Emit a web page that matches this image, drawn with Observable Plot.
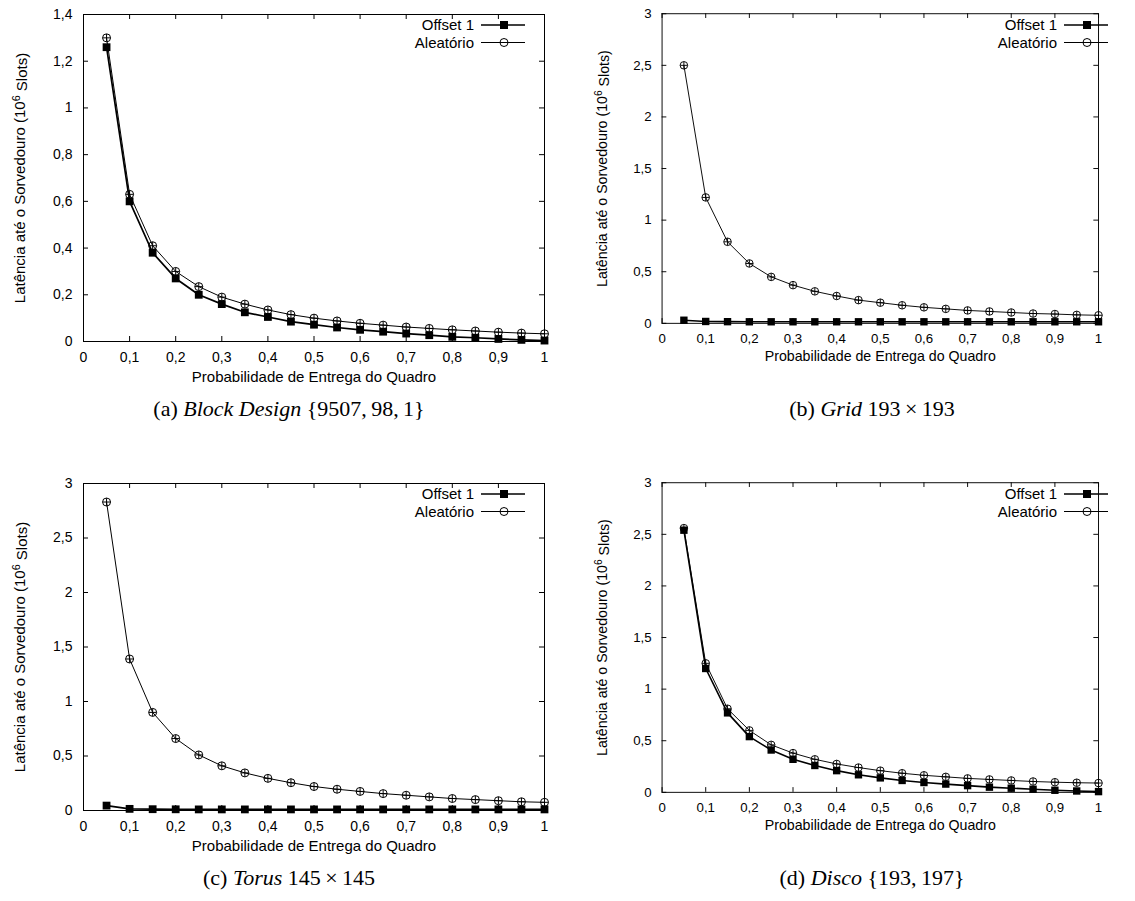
<!DOCTYPE html>
<html>
<head>
<meta charset="utf-8">
<script src="https://cdn.jsdelivr.net/npm/d3@7"></script>
<script src="https://cdn.jsdelivr.net/npm/@observablehq/plot@0.6"></script>
<style>
  html, body { margin: 0; padding: 0; background: #fff; }
  #root { position: relative; width: 1135px; height: 901px; overflow: hidden; background: #fff; }
  .panel { position: absolute; }
  .cap { position: absolute; width: 400px; text-align: center; font-family: "Liberation Serif", "DejaVu Serif", serif; font-size: 22px; line-height: 26px; color: #000; white-space: nowrap; }
  .legend { position: absolute; }
</style>
</head>
<body>
<div id="root"></div>
<script>
// ---- data ----
const prob = [0.05, 0.1, 0.15, 0.2, 0.25, 0.3, 0.35, 0.4, 0.45, 0.5, 0.55, 0.6, 0.65, 0.7, 0.75, 0.8, 0.85, 0.9, 0.95, 1.0];

const blockOffset    = [1.26, 0.60, 0.38, 0.27, 0.20, 0.16, 0.125, 0.105, 0.085, 0.072, 0.060, 0.050, 0.042, 0.034, 0.027, 0.020, 0.016, 0.011, 0.007, 0.004];
const blockAleatorio = [1.30, 0.63, 0.41, 0.30, 0.235, 0.19, 0.16, 0.135, 0.115, 0.100, 0.088, 0.078, 0.070, 0.062, 0.056, 0.050, 0.045, 0.040, 0.036, 0.033];

const gridOffset     = [0.030, 0.018, 0.016, 0.015, 0.015, 0.015, 0.015, 0.015, 0.015, 0.015, 0.015, 0.015, 0.015, 0.015, 0.015, 0.015, 0.015, 0.015, 0.015, 0.015];
const gridAleatorio  = [2.50, 1.22, 0.79, 0.58, 0.45, 0.37, 0.31, 0.265, 0.225, 0.20, 0.175, 0.155, 0.14, 0.125, 0.115, 0.105, 0.095, 0.09, 0.082, 0.078];

const torusOffset    = [0.045, 0.015, 0.012, 0.011, 0.010, 0.010, 0.010, 0.010, 0.010, 0.010, 0.010, 0.010, 0.010, 0.010, 0.010, 0.010, 0.010, 0.010, 0.010, 0.010];
const torusAleatorio = [2.83, 1.39, 0.90, 0.66, 0.51, 0.41, 0.345, 0.295, 0.255, 0.22, 0.195, 0.175, 0.155, 0.14, 0.125, 0.11, 0.10, 0.09, 0.08, 0.075];

const discoOffset    = [2.54, 1.20, 0.77, 0.54, 0.41, 0.32, 0.26, 0.21, 0.17, 0.14, 0.115, 0.095, 0.08, 0.065, 0.05, 0.04, 0.03, 0.02, 0.013, 0.007];
const discoAleatorio = [2.56, 1.25, 0.81, 0.60, 0.46, 0.38, 0.32, 0.275, 0.24, 0.21, 0.185, 0.165, 0.15, 0.135, 0.125, 0.115, 0.105, 0.098, 0.093, 0.09];

const xTicks = [0, 0.1, 0.2, 0.3, 0.4, 0.5, 0.6, 0.7, 0.8, 0.9, 1];
const yTicksA = [0, 0.2, 0.4, 0.6, 0.8, 1, 1.2, 1.4];
const yTicksB = [0, 0.5, 1, 1.5, 2, 2.5, 3];

const seriesNames = ["Offset 1", "Aleatório"];
const xTitle = "Probabilidade de Entrega do Quadro";
const yTitleParts = ["Latência até o Sorvedouro (10", "6", " Slots)"];

const panels = [
  {offset: blockOffset, aleat: blockAleatorio, yMax: 1.4, yTicks: yTicksA, col: 0, row: 0,
   caption: '(a) <i>Block Design</i> {9507,&thinsp;98,&thinsp;1}'},
  {offset: gridOffset, aleat: gridAleatorio, yMax: 3, yTicks: yTicksB, col: 1, row: 0,
   caption: '(b) <i>Grid</i> 193&thinsp;×&thinsp;193'},
  {offset: torusOffset, aleat: torusAleatorio, yMax: 3, yTicks: yTicksB, col: 0, row: 1,
   caption: '(c) <i>Torus</i> 145&thinsp;×&thinsp;145'},
  {offset: discoOffset, aleat: discoAleatorio, yMax: 3, yTicks: yTicksB, col: 1, row: 1,
   caption: '(d) <i>Disco</i> {193,&thinsp;197}'}
];

// ---- layout ----
const W = 583, H = 469;
const mL = 83, mR = 39, mT = 14, mB = 128;
const fw = W - mL - mR, fh = H - mT - mB;
const tick = 5;
const fmt = d => String(d).replace(".", ",");
const root = document.getElementById("root");
const sans = '"Liberation Sans", Arial, sans-serif';
const yTitleKey = "__ytitle__";

for (const p of panels) {
  const offData = prob.map((x, i) => ({x, y: p.offset[i]}));
  const aleData = prob.map((x, i) => ({x, y: p.aleat[i]}));
  const chart = Plot.plot({
    width: W, height: H,
    marginLeft: mL, marginRight: mR, marginTop: mT, marginBottom: mB,
    style: {fontFamily: sans, fontSize: "14px", color: "#000", background: "transparent", overflow: "visible"},
    x: {domain: [0, 1]},
    y: {domain: [0, p.yMax]},
    marks: [
      // inward tick marks on all four sides
      Plot.ruleX(xTicks, {x: d => d, insetTop: fh - tick, stroke: "#000"}),
      Plot.ruleX(xTicks, {x: d => d, insetBottom: fh - tick, stroke: "#000"}),
      Plot.ruleY(p.yTicks, {y: d => d, insetRight: fw - tick, stroke: "#000"}),
      Plot.ruleY(p.yTicks, {y: d => d, insetLeft: fw - tick, stroke: "#000"}),
      Plot.axisX({ticks: xTicks, tickFormat: fmt, tickSize: 0, tickPadding: 11, label: null}),
      Plot.axisY({ticks: p.yTicks, tickFormat: fmt, tickSize: 0, tickPadding: 11, label: null}),
      Plot.text([xTitle], {text: d => d, frameAnchor: "bottom", textAnchor: "middle", dy: 40, fontSize: 15}),
      Plot.text([yTitleKey], {text: d => d, frameAnchor: "left", textAnchor: "middle", dx: -63, rotate: -90, fontSize: 15}),
      // series
      Plot.line(offData, {x: "x", y: "y", stroke: "#000", strokeWidth: 1.7}),
      Plot.dot(offData, {x: "x", y: "y", symbol: "square", r: 4.4, fill: "#000", stroke: "none"}),
      Plot.line(aleData, {x: "x", y: "y", stroke: "#000", strokeWidth: 1}),
      Plot.dot(aleData, {x: "x", y: "y", symbol: "circle", r: 4, fill: "none", stroke: "#000", strokeWidth: 1}),
      Plot.dot(aleData, {x: "x", y: "y", symbol: "plus", r: 2.6, stroke: "#000", strokeWidth: 1}),
      Plot.frame({stroke: "#000", strokeWidth: 1})
    ]
  });
  // y title with real superscript
  chart.querySelectorAll("text").forEach(t => {
    if (t.textContent === yTitleKey) {
      t.innerHTML = `${yTitleParts[0]}<tspan dy="-0.45em" font-size="0.72em">${yTitleParts[1]}</tspan><tspan dy="0.45em">${yTitleParts[2]}</tspan>`;
    }
  });
  const left = p.col * W, top = p.row * H;
  const wrap = document.createElement("div");
  wrap.className = "panel";
  wrap.style.left = left + "px";
  wrap.style.top = top + "px";
  wrap.appendChild(chart);
  root.appendChild(wrap);

  // legend (top-right, inside frame)
  const frameRight = left + mL + fw, frameTop = top + mT;
  const leg = document.createElement("div");
  leg.className = "legend";
  leg.style.left = (frameRight - 250) + "px";
  leg.style.top = frameTop + "px";
  const rows = [
    {name: seriesNames[0], y: 11, sym: '<rect x="-4" y="-4" width="8" height="8" fill="#000"/>', sw: 1.7},
    {name: seriesNames[1], y: 28.5, sym: '<circle r="4" fill="none" stroke="#000"/>', sw: 1}
  ];
  let svg = '<svg width="250" height="40" style="position:absolute;left:0;top:0;overflow:visible">';
  for (const r of rows) {
    svg += `<text x="${250 - 70}" y="${r.y}" dy="0.35em" text-anchor="end" font-family='${sans}' font-size="15">${r.name}</text>`;
    svg += `<line x1="${250 - 63}" x2="${250 - 19}" y1="${r.y}" y2="${r.y}" stroke="#000" stroke-width="${r.sw}"/>`;
    svg += `<g transform="translate(${250 - 40},${r.y})">${r.sym}</g>`;
  }
  svg += '</svg>';
  leg.innerHTML = svg;
  root.appendChild(leg);

  // caption
  const cap = document.createElement("div");
  cap.className = "cap";
  const cx = p.col === 0 ? 289 : 872;
  const cy = top + 409;
  cap.style.left = (cx - 200) + "px";
  cap.style.top = (cy - 13) + "px";
  cap.innerHTML = p.caption;
  root.appendChild(cap);
}
</script>
</body>
</html>
